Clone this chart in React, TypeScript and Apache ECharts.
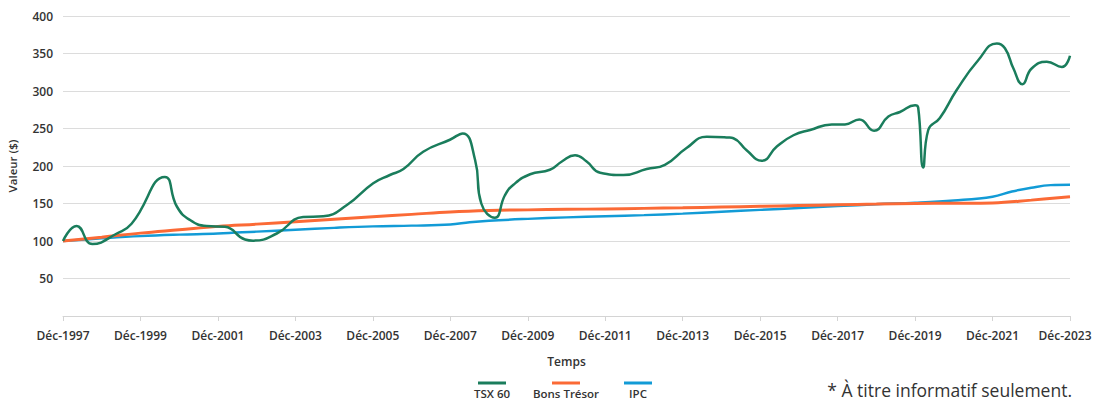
import React, { useEffect, useRef } from "react";
import * as echarts from "echarts";

const seriesNames = ["TSX 60", "Bons Trésor", "IPC"];
const seriesColors = ["#1a7d5c", "#fb6a36", "#129bd6"];

// TSX 60 (decimal year, value)
const tsxYears = [
  1997.0, 1997.35, 1997.76, 1998.39, 1998.77, 1999.63, 1999.94, 2000.28, 2000.71, 2001.18,
  2001.7, 2001.91, 2002.52, 2003.2, 2003.72, 2004.33, 2005.01, 2005.44, 2005.79, 2006.3,
  2006.99, 2007.32, 2007.64, 2007.8, 2008.15, 2008.41, 2008.63, 2009.06, 2009.57, 2009.88,
  2010.22, 2010.52, 2010.87, 2011.47, 2012.07, 2012.54, 2013.1, 2013.62, 2014.18, 2014.31,
  2014.65, 2015.04, 2015.43, 2015.86, 2016.29, 2016.85, 2017.19, 2017.56, 2017.94, 2018.31,
  2018.61, 2019.0, 2019.08, 2019.21, 2019.34, 2019.64, 2020.07, 2020.63, 2021.11, 2021.32,
  2021.54, 2021.77, 2022.01, 2022.4, 2022.79, 2023.0,
];
const tsxValues = [
  100, 120, 96, 110, 123, 185.5, 146, 128, 120, 119,
  102, 100.5, 110, 132, 133, 148, 177, 188, 196, 219,
  235, 243.5, 208, 150, 131, 161, 175, 189, 195, 206,
  214.5, 206, 191, 188, 196, 201.5, 224, 239, 238, 237,
  221, 207, 226, 241, 248, 255.5, 255.5, 262, 247, 266,
  272, 281, 278, 198, 248, 264, 301, 341, 363.5, 357,
  330, 309, 330, 339, 332, 347,
];

// Bons Trésor
const tbillYears = [
  1997, 1998, 1999, 2000, 2001, 2002, 2003, 2004, 2005, 2006, 2007, 2008, 2009, 2010,
  2011, 2012, 2013, 2014, 2015, 2016, 2017, 2018, 2019, 2020, 2021, 2022, 2023,
];
const tbillValues = [
  100, 105, 110.5, 115, 119.5, 122.5, 125.7, 129, 132.3, 135.5, 138.8, 140.7, 141.5, 142.2,
  142.8, 143.5, 144.3, 145.2, 146.2, 147.3, 148.3, 149.2, 150, 150.3, 150.8, 154.5, 159,
];

// IPC
const cpiYears = [
  1997, 1998, 1999, 2000, 2001, 2002, 2003, 2004, 2005, 2006, 2007, 2007.5, 2008, 2009,
  2010, 2011, 2012, 2013, 2014, 2015, 2016, 2017, 2018, 2019, 2020, 2021, 2021.5, 2022,
  2022.5, 2023,
];
const cpiValues = [
  100, 103.5, 106.5, 108.5, 110, 112.5, 115, 117.5, 119.5, 120.5, 122, 125, 127, 129.5,
  131.5, 133, 134.5, 136.5, 139, 141.5, 144, 146.5, 149, 151, 154, 159, 166, 171,
  174.5, 175,
];

const xMin = 1997;
const xMax = 2023;
const xStep = 2;
const yMax = 400;
const yStep = 50;

const font = "'Open Sans', 'Noto Sans', sans-serif";
const textColor = "#333333";

export default function App() {
  const ref = useRef<HTMLDivElement>(null);

  useEffect(() => {
    if (!ref.current) return;
    const chart = echarts.init(ref.current, undefined, { renderer: "svg" });

    const pairs = (xs: number[], ys: number[]) => xs.map((x, i) => [x, ys[i]]);

    const legendCenters = [492, 566, 638];

    chart.setOption({
      animation: false,
      grid: { left: 63, right: 23, top: 16, bottom: 85, containLabel: false, outerBoundsMode: "none" },
      xAxis: {
        type: "value",
        min: xMin,
        max: xMax,
        interval: xStep,
        name: "Temps",
        nameLocation: "middle",
        nameGap: 39,
        nameTextStyle: { fontFamily: font, fontWeight: 600, fontSize: 12, color: textColor },
        axisLine: { show: true, lineStyle: { color: "#d4d4d4", width: 1 } },
        axisTick: { show: true, length: 5, lineStyle: { color: "#d4d4d4" } },
        splitLine: { show: false },
        axisLabel: {
          formatter: (v: number) => (v === xMax ? "{last|Déc-" + v + "}" : "Déc-" + v),
          fontFamily: font,
          fontWeight: 600,
          fontSize: 12,
          color: textColor,
          margin: 13,
          rich: {
            last: {
              fontFamily: font,
              fontWeight: 600,
              fontSize: 12,
              color: textColor,
              padding: [0, 10, 0, 0],
            },
          },
        },
      },
      yAxis: {
        type: "value",
        min: 0,
        max: yMax,
        interval: yStep,
        name: "Valeur ($)",
        nameLocation: "middle",
        nameGap: 45,
        nameTextStyle: { fontFamily: font, fontWeight: 600, fontSize: 11.5, color: textColor },
        axisLine: { show: false },
        axisTick: { show: false },
        splitLine: { show: true, lineStyle: { color: "#dcdcdc", width: 1 } },
        axisLabel: {
          formatter: (v: number) => (v === 0 ? "" : String(v)),
          fontFamily: font,
          fontWeight: 600,
          fontSize: 12,
          color: textColor,
          margin: 10,
        },
      },
      series: [
        {
          name: seriesNames[0],
          type: "line",
          data: pairs(tsxYears, tsxValues),
          showSymbol: false,
          smooth: 0.5,
          z: 4,
          lineStyle: { color: seriesColors[0], width: 2.5 },
          itemStyle: { color: seriesColors[0] },
        },
        {
          name: seriesNames[1],
          type: "line",
          data: pairs(tbillYears, tbillValues),
          showSymbol: false,
          smooth: 0.4,
          z: 3,
          lineStyle: { color: seriesColors[1], width: 3 },
          itemStyle: { color: seriesColors[1] },
        },
        {
          name: seriesNames[2],
          type: "line",
          data: pairs(cpiYears, cpiValues),
          showSymbol: false,
          smooth: 0.4,
          z: 2,
          lineStyle: { color: seriesColors[2], width: 2.5 },
          itemStyle: { color: seriesColors[2] },
        },
      ],
      graphic: [
        ...seriesNames.map((name, i) => ({
          type: "group",
          children: [
            {
              type: "line",
              shape: { x1: legendCenters[i] - 14, y1: 383, x2: legendCenters[i] + 14, y2: 383 },
              style: { stroke: seriesColors[i], lineWidth: 3 },
            },
            {
              type: "text",
              x: legendCenters[i],
              y: 393,
              style: {
                text: name,
                fontFamily: font,
                fontWeight: 600,
                fontSize: 11.5,
                fill: textColor,
                align: "center",
                verticalAlign: "middle",
              },
            },
          ],
        })),
        {
          type: "text",
          x: 1072,
          y: 390,
          style: {
            text: "* À titre informatif seulement.",
            fontFamily: font,
            fontSize: 17.5,
            fill: textColor,
            align: "right",
            verticalAlign: "middle",
          },
        },
      ],
    });

    return () => chart.dispose();
  }, []);

  return <div ref={ref} style={{ width: 1093, height: 401, position: "absolute", left: 0, top: 0 }} />;
}
